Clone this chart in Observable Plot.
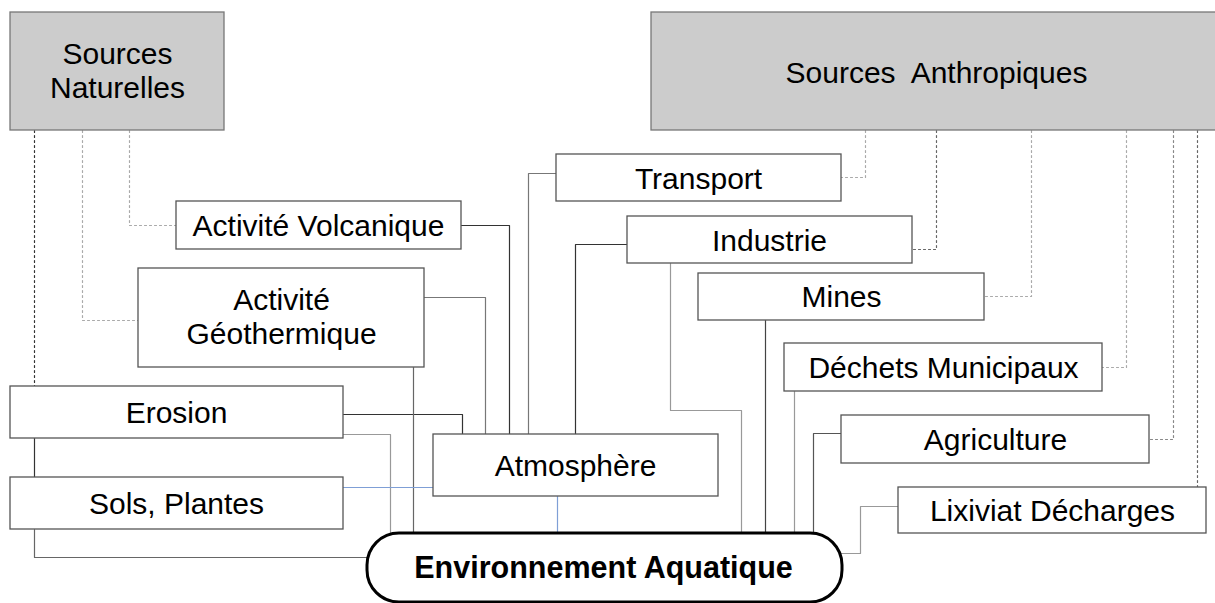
<!DOCTYPE html>
<html>
<head>
<meta charset="utf-8">
<script src="https://cdn.jsdelivr.net/npm/d3@7"></script>
<script src="https://cdn.jsdelivr.net/npm/@observablehq/plot@0.6"></script>
<style>
  html, body { margin: 0; padding: 0; background: #fff; }
</style>
</head>
<body>
<div id="chart"></div>
<script>
// ---- Nodes (boxes) ----
const nodeLabels = [
  "Sources\nNaturelles", "Sources\u00a0 Anthropiques",
  "Activité Volcanique", "Activité\nGéothermique", "Erosion", "Sols, Plantes",
  "Atmosphère", "Transport", "Industrie", "Mines",
  "Déchets Municipaux", "Agriculture", "Lixiviat Décharges"
];
const nodeLeft   = [10, 651, 176, 138, 10, 10, 433, 556, 627, 698, 784, 841, 898];
const nodeRight  = [224, 1222, 461, 424, 343, 343, 718, 841, 912, 984, 1102, 1149, 1206];
const nodeTop    = [12, 12, 201, 268, 386, 477, 434, 154, 216, 273, 343, 415, 487];
const nodeBottom = [130, 130, 249, 367, 438, 529, 496, 201, 263, 320, 391, 463, 533];
const nodeIsSource = [true, true, false, false, false, false, false, false, false, false, false, false, false];
const labelX = [117, 936, 318, 281, 176, 176, 575, 698, 769, 841, 943, 995, 1052];
const labelY = [70, 72, 225, 316, 412, 503, 465, 178, 240, 296, 367, 439, 510];

// ---- Target ----
const targetLabel = "Environnement Aquatique";
const targetBox = [367, 842, 533, 602]; // left, right, top, bottom
const targetLabelPos = [603, 568];

// ---- Connectors (polylines) ----
const solidLinks = [
  [[461, 225], [509, 225], [509, 434]],          // Volcanique -> Atmosphère
  [[424, 297], [485, 297], [485, 434]],          // Géothermique -> Atmosphère
  [[343, 414], [462, 414], [462, 434]],          // Erosion -> Atmosphère
  [[343, 434], [390, 434], [390, 533]],          // Erosion -> Env
  [[413, 367], [413, 533]],                      // Géothermique -> Env
  [[34, 438], [34, 477]],                        // Erosion -> Sols
  [[34, 529], [34, 557], [370, 557]],            // Sols -> Env
  [[343, 487], [433, 487]],                      // Sols -> Atmosphère
  [[557, 496], [557, 533]],                      // Atmosphère -> Env
  [[556, 173], [528, 173], [528, 434]],          // Transport -> Atmosphère
  [[627, 244], [575, 244], [575, 434]],          // Industrie -> Atmosphère
  [[670, 263], [670, 410], [741, 410], [741, 533]], // Industrie -> Env
  [[765, 320], [765, 533]],                      // Mines -> Env
  [[794, 391], [794, 533]],                      // Déchets -> Env
  [[841, 433], [813, 433], [813, 533]],          // Agriculture -> Env
  [[898, 506], [860, 506], [860, 553], [838, 553]] // Lixiviat -> Env
];
const solidColors = [
  "#333", "#777", "#333", "#999", "#666", "#333", "#666", "#7f9fd6",
  "#7f9fd6", "#777", "#333", "#999", "#444", "#999", "#555", "#999"
];

const dottedLinks = [
  [[34, 130], [34, 386]],
  [[82, 130], [82, 320], [138, 320]],
  [[129, 130], [129, 225], [176, 225]],
  [[865, 130], [865, 177], [841, 177]],
  [[936, 130], [936, 249], [912, 249]],
  [[1031, 130], [1031, 296], [984, 296]],
  [[1126, 130], [1126, 367], [1102, 367]],
  [[1173, 130], [1173, 439], [1149, 439]],
  [[1197, 130], [1197, 487]]
];
const dottedColors = ["#333", "#aaa", "#aaa", "#aaa", "#666", "#aaa", "#aaa", "#888", "#666"];

// ---- Build ----
const nodes = nodeLabels.map((label, i) => ({
  label, x1: nodeLeft[i], x2: nodeRight[i], y1: nodeTop[i], y2: nodeBottom[i],
  src: nodeIsSource[i], lx: labelX[i], ly: labelY[i]
}));

const lineMarks = [];
solidLinks.forEach((pts, i) => {
  lineMarks.push(Plot.line(pts, {x: d => d[0], y: d => d[1], stroke: solidColors[i], strokeWidth: 1.2}));
});
dottedLinks.forEach((pts, i) => {
  lineMarks.push(Plot.line(pts, {x: d => d[0], y: d => d[1], stroke: dottedColors[i], strokeWidth: 1.2, strokeDasharray: "2,3"}));
});

const chart = Plot.plot({
  width: 1215,
  height: 603,
  margin: 0,
  x: {domain: [0, 1215], range: [0, 1215], axis: null},
  y: {domain: [0, 603], range: [0, 603], axis: null},
  style: {fontFamily: "'Liberation Sans', Arial, sans-serif", background: "#fff"},
  marks: [
    ...lineMarks,
    Plot.rect(nodes, {
      x1: "x1", x2: "x2", y1: "y1", y2: "y2",
      fill: d => d.src ? "#cccccc" : "#ffffff",
      stroke: d => d.src ? "#777" : "#555",
      strokeWidth: 1.3
    }),
    Plot.rect([targetBox], {
      x1: d => d[0], x2: d => d[1], y1: d => d[2], y2: d => d[3],
      fill: "#fff", stroke: "#000", strokeWidth: 3, rx: 32
    }),
    Plot.text(nodes, {
      x: "lx", y: "ly", text: "label", fontSize: 30, fill: "#000", lineHeight: 1.13
    }),
    Plot.text([targetLabel], {
      x: targetLabelPos[0], y: targetLabelPos[1], text: d => d,
      fontSize: 30.5, fontWeight: "bold", fill: "#000"
    })
  ]
});
document.getElementById("chart").appendChild(chart);
</script>
</body>
</html>
